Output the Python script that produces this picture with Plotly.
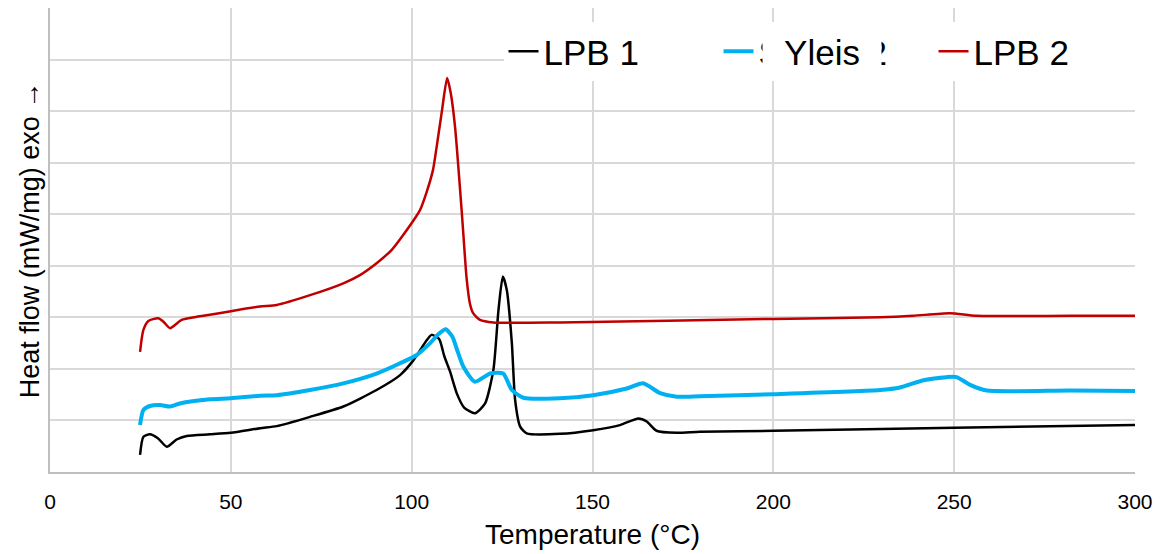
import plotly.graph_objects as go

# ---- data ----
t_lpb1 = [24.9, 25.8, 27.6, 29.9, 32.3, 35, 37.8, 44.2, 50, 58.1, 62.7, 71.9, 81.1, 90.3, 96.8, 100.5,
          104.2, 105.5, 107.6, 109, 110.6, 112.5, 114.5, 117.5, 120.3, 122.6, 124, 125.2, 126.3, 127.7,
          128.6, 130, 131.8, 141, 150.2, 157.6, 162.7, 165, 167.7, 173.3, 179.7, 200, 250, 300]
v_lpb1 = [0.33, 0.68, 0.73, 0.65, 0.49, 0.63, 0.70, 0.73, 0.76, 0.85, 0.89, 1.07, 1.27, 1.59, 1.88, 2.17,
          2.56, 2.66, 2.58, 2.25, 1.95, 1.52, 1.25, 1.14, 1.33, 1.98, 3.14, 3.79, 3.53, 2.50,
          1.40, 0.88, 0.75, 0.74, 0.81, 0.91, 1.04, 0.98, 0.80, 0.76, 0.78, 0.80, 0.86, 0.91]

t_yleis = [24.9, 25.8, 27.6, 30.4, 33.2, 35.9, 44.2, 50, 58.1, 62.7, 71.9, 81.1, 90.3, 96.8, 101.4, 105.1,
           107.5, 109.4, 111.3, 112.5, 114.3, 117.5, 121.7, 125.3, 127.7, 130.9, 141, 150.2, 159.5, 164,
           168.7, 173.3, 179.7, 200, 229.5, 235, 241.5, 247.9, 250.7, 254.4, 259, 282, 300]
v_yleis = [0.91, 1.20, 1.28, 1.30, 1.27, 1.33, 1.41, 1.43, 1.48, 1.49, 1.59, 1.72, 1.91, 2.11, 2.27, 2.50,
           2.68, 2.77, 2.62, 2.38, 2.04, 1.75, 1.91, 1.91, 1.59, 1.44, 1.43, 1.49, 1.62, 1.72,
           1.53, 1.46, 1.47, 1.51, 1.59, 1.64, 1.78, 1.84, 1.84, 1.69, 1.58, 1.58, 1.57]

t_lpb2 = [24.9, 25.8, 27.2, 29.9, 31.3, 33.2, 36.4, 40.6, 44.2, 50, 58.1, 62.7, 71.9, 81.1, 85.7, 90.3,
          94.5, 98, 102.3, 104, 105.9, 107, 108.4, 109.8, 110.8, 112, 113.9, 115.2, 116.1, 117, 118.9,
          122.6, 141, 200, 229.5, 238.7, 248.8, 256.2, 282, 300]
v_lpb2 = [2.33, 2.75, 2.93, 2.98, 2.92, 2.79, 2.95, 3.01, 3.05, 3.12, 3.21, 3.24, 3.43, 3.66, 3.82, 4.05,
          4.31, 4.63, 5.08, 5.40, 5.86, 6.35, 7.02, 7.64, 7.35, 6.69, 5.00, 3.75, 3.27, 3.08, 2.95,
          2.90, 2.90, 2.97, 3.00, 3.03, 3.08, 3.03, 3.03, 3.03]

x_ticks = [0, 50, 100, 150, 200, 250, 300]

FONT = "Liberation Sans, Arial, sans-serif"

fig = go.Figure()
fig.add_trace(go.Scatter(x=t_lpb1, y=v_lpb1, mode="lines", name="LPB 1",
                         line=dict(color="#000000", width=2.5, shape="spline", smoothing=0.6)))
fig.add_trace(go.Scatter(x=t_yleis, y=v_yleis, mode="lines", name="Series 2",
                         line=dict(color="#00B0F0", width=4, shape="spline", smoothing=0.6)))
fig.add_trace(go.Scatter(x=t_lpb2, y=v_lpb2, mode="lines", name="LPB 2",
                         line=dict(color="#C00000", width=2.5, shape="spline", smoothing=0.6)))

fig.update_layout(
    width=1171, height=554,
    margin=dict(l=50, r=36, t=8, b=82),
    paper_bgcolor="white", plot_bgcolor="white",
    font=dict(family=FONT, color="#000000"),
    showlegend=True,
    legend=dict(orientation="h", x=0.418, xanchor="left", y=0.97, yanchor="top",
                bgcolor="white", font=dict(size=35, family=FONT, color="#000000"),
                entrywidth=170, entrywidthmode="pixels"),
    annotations=[dict(text="Yleis", xref="paper", yref="paper", x=0.7115, y=0.905,
                      xanchor="center", yanchor="middle", showarrow=False,
                      bgcolor="white", font=dict(size=35, family=FONT, color="#000000"),
                      width=116)],
)
fig.update_xaxes(range=[0, 300], tickvals=x_ticks, ticktext=[str(v) for v in x_ticks],
                 showgrid=True, gridcolor="#d9d9d9", gridwidth=1.5,
                 showline=True, linecolor="#bfbfbf", linewidth=1.5,
                 zeroline=False, ticks="", ticklabelstandoff=10,
                 tickfont=dict(size=21, family=FONT, color="#000000"),
                 title=dict(text="Temperature (°C)", font=dict(size=28, family=FONT, color="#000000"),
                            standoff=12))
fig.update_yaxes(range=[0, 9], dtick=1, showticklabels=False,
                 showgrid=True, gridcolor="#d9d9d9", gridwidth=1.5,
                 showline=True, linecolor="#bfbfbf", linewidth=1.5,
                 zeroline=False, ticks="",
                 title=dict(text="Heat flow (mW/mg) exo →", font=dict(size=27, family=FONT, color="#000000"),
                            standoff=1))

fig.write_html("out.html")
